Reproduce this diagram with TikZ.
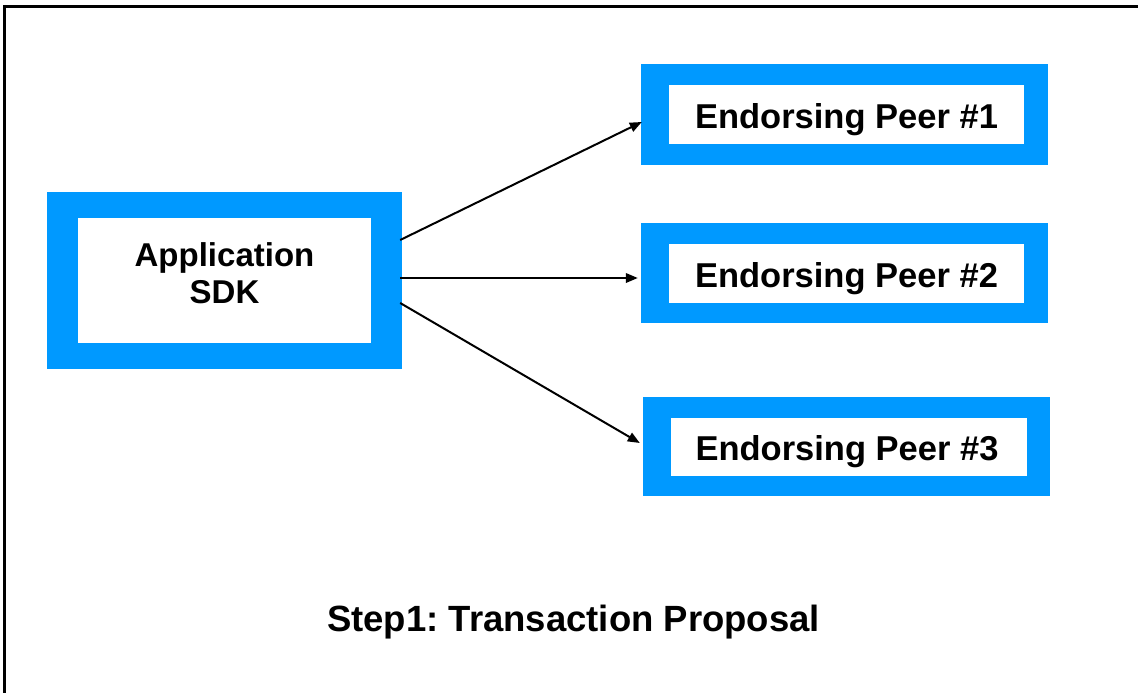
\documentclass[tikz,border=0pt]{standalone}
\usepackage{fontspec}
\setmainfont{Liberation Sans}
\usetikzlibrary{calc,arrows.meta}
\definecolor{peerblue}{RGB}{0,153,255}
\frenchspacing
\begin{document}
\begin{tikzpicture}[x=1pt,y=-1pt,
  outerbox/.style={fill=peerblue,draw=none,inner sep=0pt,minimum width=#1},
  innerbox/.style={fill=white,draw=none,inner sep=0pt},
  boxlabel/.style={inner sep=0pt,align=center,font=\bfseries\fontsize{#1}{37}\selectfont},
  conn/.style={line width=2pt,-{Triangle[length=12pt,width=9.5pt]}},
  frameline/.style={line width=3pt,black}]
\useasboundingbox (0,0) rectangle (1138,693);
% page frame: top and left edges only
\draw[frameline] (3,6.5) -- (1138,6.5);
\draw[frameline] (4.5,5) -- (4.5,693);

% client box
\node[outerbox=355pt,minimum height=177pt] (app) at (224.5,280.5) {};
\node[innerbox,minimum width=293pt,minimum height=125pt] (appin) at (app) {};
\node[boxlabel=33] (applabel) at ($(appin)+(0,-7)$) {Application\\SDK};

% endorsing peers
\node[outerbox=407pt,minimum height=101pt] (p1) at (844.5,114.5) {};
\node[innerbox,minimum width=355pt,minimum height=59pt] (p1in) at (846.5,114.5) {};
\node[boxlabel=34.5] (p1label) at ($(p1in)+(0,5)$) {Endorsing Peer \#1};

\node[outerbox=407pt,minimum height=100pt] (p2) at (844.5,273) {};
\node[innerbox,minimum width=355pt,minimum height=59pt] (p2in) at (846.5,273.5) {};
\node[boxlabel=34.5] (p2label) at ($(p2in)+(0,5)$) {Endorsing Peer \#2};

\node[outerbox=407pt,minimum height=99pt] (p3) at (846.5,446.5) {};
\node[innerbox,minimum width=356pt,minimum height=58pt] (p3in) at (849,447) {};
\node[boxlabel=34.5] (p3label) at ($(p3in)+(-2,5)$) {Endorsing Peer \#3};

% proposal requests
\draw[conn] ($(app.east)+(-2,-40.5)$) -- ($(p1.west)+(1,7.5)$);
\draw[conn] ($(app.east)+(-2,-2.5)$) -- ($(p2.west)+(-3,5)$);
\draw[conn] ($(app.east)+(-2,22.5)$) -- ($(p3.west)+(-3,-3.5)$);

% caption
\node[boxlabel=36.5] (caption) at (573.5,622) {Step1: Transaction Proposal};
\end{tikzpicture}
\end{document}
